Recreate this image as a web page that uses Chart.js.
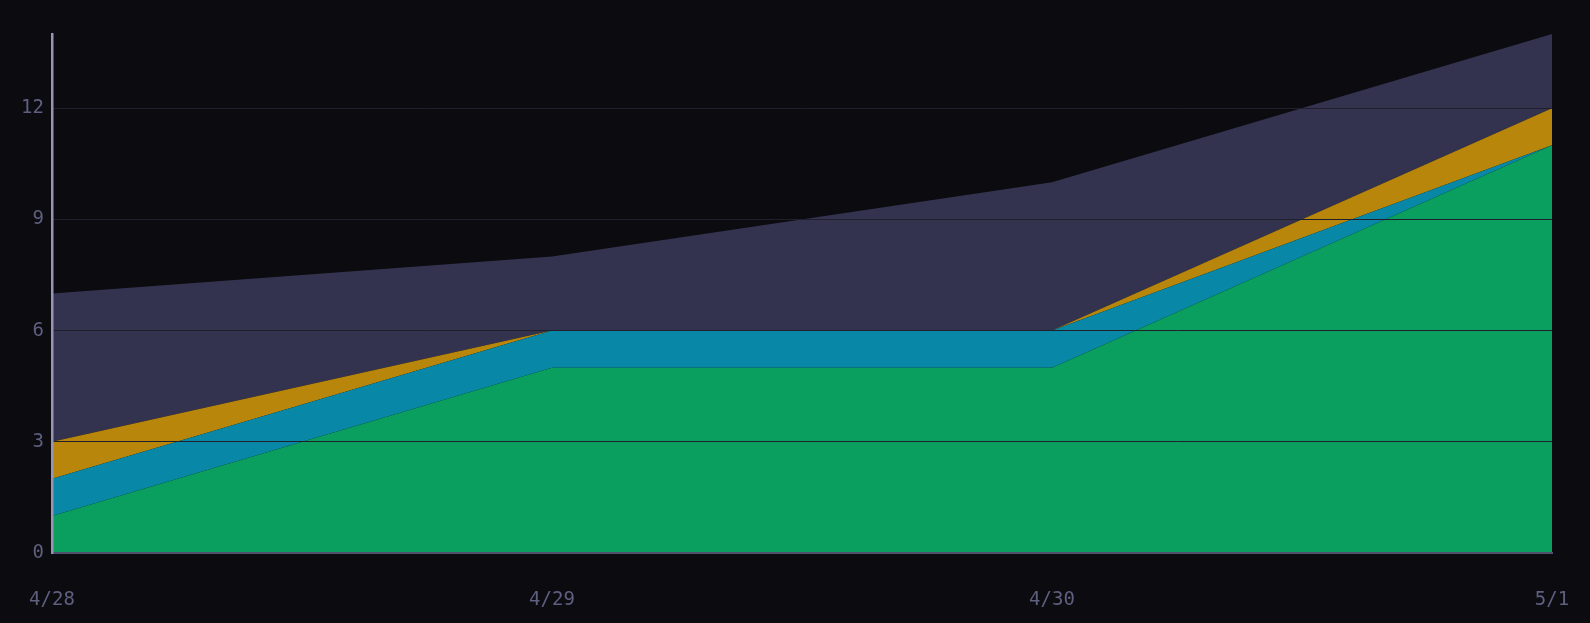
<!DOCTYPE html>
<html>
<head>
<meta charset="utf-8">
<script src="https://cdn.jsdelivr.net/npm/chart.js@4/dist/chart.umd.min.js"></script>
<style>
  html, body { margin: 0; padding: 0; background: #0b0b10; }
  canvas { display: block; }
</style>
</head>
<body>
<canvas id="myChart" width="1590" height="623"></canvas>
<script>
// data
const days = ['4/28', '4/29', '4/30', '5/1']
const greenVals = [1, 5, 5, 11]
const blueVals = [1, 1, 1, 0]
const orangeVals = [1, 0, 0, 1]
const purpleVals = [4, 2, 4, 2]
const yTicks = [0, 3, 6, 9, 12]

const tickFont = { family: 'DejaVu Sans Mono', size: 19 }
const tickColor = '#5f5f80'

const makeSet = (label, vals, color, fill) => ({
    label: label,
    data: vals,
    backgroundColor: color,
    borderColor: color,
    borderWidth: 0,
    pointRadius: 0,
    tension: 0,
    fill: fill
})

const data = {
    labels: days,
    datasets: [
        makeSet('green', greenVals, '#0a9f5f', 'origin'),
        makeSet('blue', blueVals, '#0888a6', '-1'),
        makeSet('orange', orangeVals, '#b8860b', '-1'),
        makeSet('purple', purpleVals, '#33334f', '-1')
    ]
}

const config = {
    type: 'line',
    data: data,
    options: {
        responsive: false,
        animation: false,
        layout: { padding: { top: 34, right: 38, left: 0, bottom: 0 } },
        plugins: { legend: { display: false }, tooltip: { enabled: false } },
        scales: {
            x: {
                offset: false,
                grid: { display: false, drawTicks: false },
                border: { color: '#50506a', width: 2, z: 2 },
                ticks: { font: tickFont, color: tickColor, padding: 36, maxRotation: 0 },
                afterFit: (s) => {
                    s.height = 70
                    s.paddingLeft = 0
                    s.paddingRight = 0
                }
            },
            y: {
                stacked: true,
                min: 0,
                max: 14,
                grid: { color: '#20202c', lineWidth: 1, drawTicks: false, z: 1 },
                border: { color: '#9696b4', width: 2.5, z: 2 },
                ticks: { font: tickFont, color: tickColor, padding: 8, stepSize: 3 },
                afterBuildTicks: (s) => {
                    s.ticks = yTicks.map(v => ({ value: v }))
                },
                afterFit: (s) => { s.width = 52 }
            }
        }
    }
}

const myChart = new Chart(document.getElementById('myChart'), config)
</script>
</body>
</html>
